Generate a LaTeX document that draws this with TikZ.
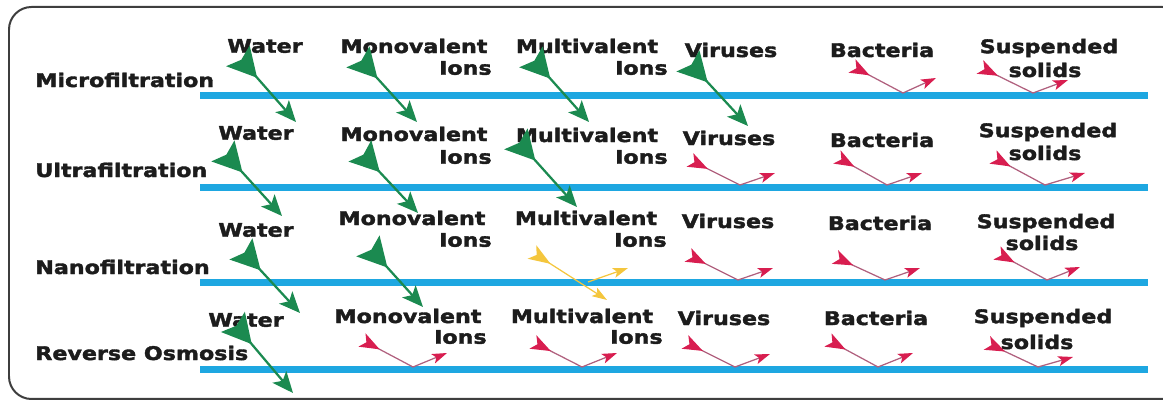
\documentclass[tikz,border=0pt]{standalone}
\usepackage{fontspec}
\newfontfamily\labelfont{DejaVu Sans}[FakeStretch=1.18,FakeBold=2]
\usepackage[svgnames]{xcolor}
\usetikzlibrary{arrows.meta}
\definecolor{membraneBlue}{HTML}{1EA7E1}
\definecolor{passGreen}{HTML}{1B8A50}
\definecolor{stopRed}{HTML}{D81E50}
\definecolor{stopLine}{HTML}{B0607E}
\definecolor{partYellow}{HTML}{F4C63D}
\definecolor{labelInk}{HTML}{1C1C1C}

\begin{document}
\begin{tikzpicture}[
  x=0.02cm, y=-0.02cm,
  every node/.style={
    text=labelInk,
    font=\labelfont\bfseries\fontsize{10.7}{11}\selectfont,
    inner sep=0pt,
  },
  rowlabel/.style={anchor=west},
  ionlabel/.style={anchor=east},
  membrane/.style={
    draw=membraneBlue,
    line width=0.14cm,
  },
  passes/.style={
    draw=passGreen,
    line width=0.045cm,
    {Stealth[reversed,length=0.58cm,width=0.62cm,inset=0.1cm]}-{Stealth[length=0.42cm,width=0.36cm,inset=0.1cm]},
  },
  blocked/.style={
    draw=stopLine,
    line width=0.025cm,
    {Stealth[reversed,length=0.4cm,width=0.3cm,inset=0.1cm,color=stopRed]}-{Stealth[length=0.3cm,width=0.2cm,inset=0.07cm,color=stopRed]},
  },
  partial/.style={
    draw=partYellow,
    line width=0.025cm,
  },
]
\useasboundingbox (0,0) rectangle (1163,401);
\clip (0,0) rectangle (1163,401);
\draw[rounded corners=0.45cm, line width=0.04cm, draw=labelInk!85] (9,7) rectangle (1185,399);

% membranes
\foreach \y in {96,188,283,370}
  \draw[membrane] (200,\y) -- (1148,\y);

% Microfiltration
\node[rowlabel] (mf) at (35,80) {Microfiltration};
\node (mfWater) at (265,46) {Water};
\node (mfMono) at (414,46) {Monovalent};
\node[ionlabel] (mfMonoIons) at (492,68) {Ions};
\node (mfMulti) at (587,46) {Multivalent};
\node[ionlabel] (mfMultiIons) at (668,68) {Ions};
\node (mfVirus) at (731,50) {Viruses};
\node (mfBact) at (882,50) {Bacteria};
\node (mfSusp) at (1049,48) {Suspended};
\node (mfSolids) at (1045,70) {solids};

% Ultrafiltration
\node[rowlabel] (uf) at (35,170) {Ultrafiltration};
\node (ufWater) at (256,133) {Water};
\node (ufMono) at (414,134) {Monovalent};
\node[ionlabel] (ufMonoIons) at (492,157) {Ions};
\node (ufMulti) at (587,135) {Multivalent};
\node[ionlabel] (ufMultiIons) at (668,157) {Ions};
\node (ufVirus) at (729,138) {Viruses};
\node (ufBact) at (882,140) {Bacteria};
\node (ufSusp) at (1048,132) {Suspended};
\node (ufSolids) at (1045,153) {solids};

% Nanofiltration
\node[rowlabel] (nf) at (35,267) {Nanofiltration};
\node (nfWater) at (256,230) {Water};
\node (nfMono) at (412,218) {Monovalent};
\node[ionlabel] (nfMonoIons) at (492,240) {Ions};
\node (nfMulti) at (586,218) {Multivalent};
\node[ionlabel] (nfMultiIons) at (667,240) {Ions};
\node (nfVirus) at (728,221) {Viruses};
\node (nfBact) at (880,223) {Bacteria};
\node (nfSusp) at (1046,223) {Suspended};
\node (nfSolids) at (1042,243) {solids};

% Reverse osmosis
\node[rowlabel] (ro) at (35,353) {Reverse Osmosis};
\node (roWater) at (246,320) {Water};
\node (roMono) at (408,316) {Monovalent};
\node[ionlabel] (roMonoIons) at (487,337) {Ions};
\node (roMulti) at (582,316) {Multivalent};
\node[ionlabel] (roMultiIons) at (663,337) {Ions};
\node (roVirus) at (724,318) {Viruses};
\node (roBact) at (876,318) {Bacteria};
\node (roSusp) at (1043,318) {Suspended};
\node (roSolids) at (1037,342) {solids};

% passing species
\foreach \a/\b in {{238,56}/{296,122}, {358,57}/{417,122}, {531,57}/{589,122},
                   {688,61}/{748,126}, {223,151}/{282,216}, {360,151}/{418,213},
                   {516,139}/{577,207}, {241,249}/{300,313}, {368,246}/{423,307},
                   {233,322}/{293,393}}
  \draw[passes] (\a) -- (\b);

% rejected species
\foreach \a/\v/\b in {{852,66}/{903,93}/{936,78}, {980,67}/{1033,93}/{1068,80},
                      {690,160}/{740,185}/{775,173}, {837,157}/{887,185}/{922,173},
                      {993,157}/{1045,185}/{1085,173},
                      {688,255}/{738,280}/{773,268}, {835,257}/{885,280}/{920,268},
                      {997,253}/{1047,280}/{1080,267},
                      {362,340}/{413,367}/{447,353}, {533,342}/{582,367}/{617,353},
                      {685,342}/{735,367}/{770,354}, {828,340}/{878,367}/{913,353},
                      {987,343}/{1038,367}/{1073,357}}
  \draw[blocked] (\a) -- (\v) -- (\b);

% partly retained multivalent ions
\coordinate (nfMultiIn) at (532,252);
\coordinate (nfMultiHit) at (588,282);
\draw[partial, {Stealth[reversed,length=0.44cm,width=0.32cm,inset=0.11cm]}-{Stealth[length=0.3cm,width=0.2cm,inset=0.07cm]}]
  (nfMultiIn) -- (607,300);
\draw[partial, -{Stealth[length=0.3cm,width=0.2cm,inset=0.07cm]}] (nfMultiHit) -- (628,268);
\end{tikzpicture}
\end{document}
